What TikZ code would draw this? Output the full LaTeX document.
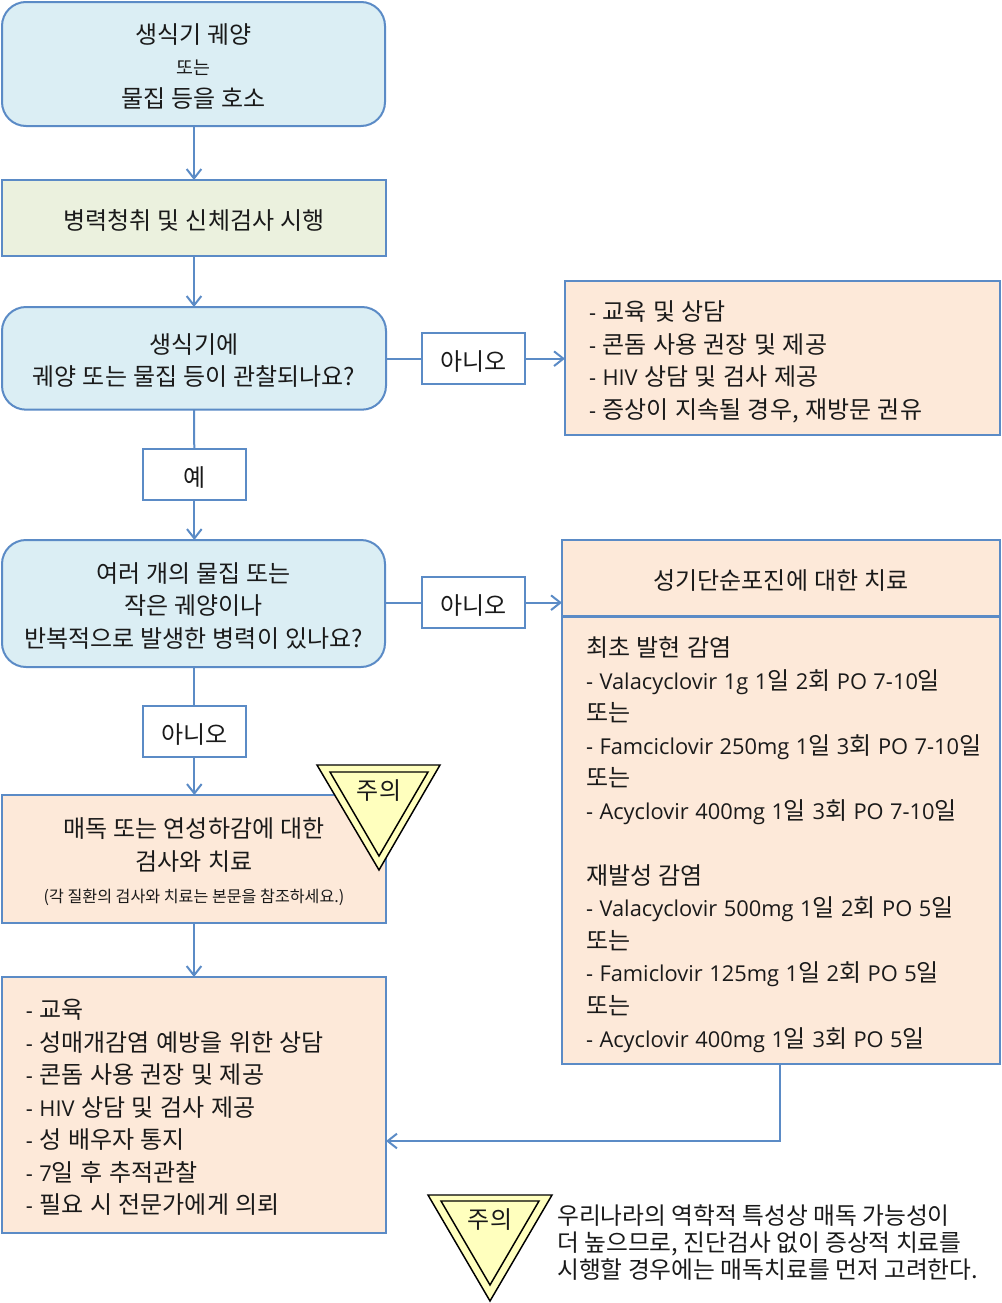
\documentclass[tikz,border=0pt]{standalone}
\usepackage{fontspec}
\setmainfont{Noto Sans CJK KR}
\newfontfamily\latf{Open Sans}[Scale=0.91]
\usetikzlibrary{arrows.meta}
\definecolor{lineblue}{HTML}{5B8BC6}
\definecolor{skyfill}{HTML}{DBEEF4}
\definecolor{greenfill}{HTML}{EBF1DE}
\definecolor{peachfill}{HTML}{FDE9D9}
\definecolor{warnfill}{HTML}{FFFFBE}
\definecolor{txt}{HTML}{1A1A1A}
\newcommand{\bigf}{\fontsize{18pt}{24.4pt}\selectfont\spaceskip=.25em\relax}
\newcommand{\listf}{\fontsize{18pt}{24.4pt}\selectfont\spaceskip=.27em\relax}
\newcommand{\smallf}{\fontsize{13.8pt}{24.4pt}\selectfont}
\newcommand{\tinyf}{\fontsize{12.1pt}{24.4pt}\selectfont\spaceskip=.224em\relax}
\newcommand{\notef}{\fontsize{17.8pt}{20.25pt}\selectfont}
\newcommand{\lat}[1]{{\latf #1}}
\tikzset{
  x=0.75pt,y=-0.75pt,
  box/.style={draw=lineblue,line width=1.5pt,inner sep=0pt,outer sep=0pt,text=txt,font=\bigf,align=flush center,anchor=north west,
    execute at begin node={\rule{0pt}{24pt}},execute at end node={\rule[-7pt]{0pt}{7pt}}},
  sky/.style={box,fill=skyfill,rounded corners=18pt},
  green box/.style={box,fill=greenfill},
  peach/.style={box,fill=peachfill},
  list box/.style={peach,font=\listf,align=flush left},
  label box/.style={box,fill=white,minimum width=77pt,minimum height=38.5pt},
  conn/.style={draw=lineblue,line width=1.5pt},
  arr/.style={conn,-{Straight Barb[length=7pt,width=11pt,line width=1.5pt]}},
  warn/.style={draw=black,line width=1.1pt,fill=warnfill,line join=miter},
  warntext/.style={text=txt,font=\bigf,inner sep=0pt},
}
\begin{document}
\begin{tikzpicture}
\useasboundingbox (0,0) rectangle (1002,1303);
\node[sky,minimum width=287.25pt,minimum height=93pt,text width=280pt] (a) at (2,2) {생식기 궤양\\[-1pt]{\smallf 또는}\\물집 등을 호소};
\node[green box,minimum width=288pt,minimum height=57pt] (b) at (2,180) {병력청취 및 신체검사 시행};
\node[sky,minimum width=288pt,minimum height=77pt,text width=280pt] (c) at (2,307) {생식기에\\궤양 또는 물집 등이 관찰되나요?};
\node[list box,minimum width=326.25pt,minimum height=115.5pt,text width=290.25pt] (d) at (565,281) {\lat{-} 교육 및 상담\\\lat{-} 콘돔 사용 권장 및 제공\\\lat{- HIV} 상담 및 검사 제공\\\lat{-} 증상이 지속될 경우, 재방문 권유};
\node[label box] (no1) at (422,333) {아니오};
\node[label box] (yes) at (143,449) {예};
\node[sky,minimum width=287.25pt,minimum height=95.25pt,text width=280pt] (e) at (2,540) {여러 개의 물집 또는\\작은 궤양이나\\반복적으로 발생한 병력이 있나요?};
\node[label box] (no2) at (422,577) {아니오};
\node[peach,minimum width=328.5pt,minimum height=57pt] (fh) at (562,540) {성기단순포진에 대한 치료};
\node[list box,minimum width=328.5pt,minimum height=335.25pt,text width=292.5pt] (fb) at (562,617) {최초 발현 감염\\\lat{- Valacyclovir 1g 1}일 \lat{2}회 \lat{PO 7-10}일\\또는\\\mbox{\lat{- Famciclovir 250mg 1}일 \lat{3}회 \lat{PO 7-10}일}\\또는\\\lat{- Acyclovir 400mg 1}일 \lat{3}회 \lat{PO 7-10}일\\[24.4pt]재발성 감염\\\lat{- Valacyclovir 500mg 1}일 \lat{2}회 \lat{PO 5}일\\또는\\\lat{- Famiclovir 125mg 1}일 \lat{2}회 \lat{PO 5}일\\또는\\\lat{- Acyclovir 400mg 1}일 \lat{3}회 \lat{PO 5}일};
\node[label box] (no3) at (143,706) {아니오};
\node[peach,minimum width=288pt,minimum height=96pt,text width=280pt] (g) at (2,795) {매독 또는 연성하감에 대한\\검사와 치료\\{\tinyf (각 질환의 검사와 치료는 본문을 참조하세요.)}};
\node[list box,minimum width=288pt,minimum height=192pt,text width=252pt] (h) at (2,977) {\lat{-} 교육\\\lat{-} 성매개감염 예방을 위한 상담\\\lat{-} 콘돔 사용 권장 및 제공\\\lat{- HIV} 상담 및 검사 제공\\\lat{-} 성 배우자 통지\\\lat{- 7}일 후 추적관찰\\\lat{-} 필요 시 전문가에게 의뢰};
\coordinate (hin) at (386,1141);
\draw[arr] (a.south -| b.north) -- (b.north);
\draw[arr] (b) -- (c);
\draw[conn] (c.east |- no1.west) -- (no1.west);
\draw[arr] (no1.east) -- (no1.east -| d.west);
\draw[conn] (c) -- (yes);
\draw[arr] (yes.south) -- (yes.south |- e.north);
\draw[conn] (e.east |- no2.west) -- (no2.west);
\draw[arr] (no2.east) -- (no2.east -| fh.west);
\draw[conn] (no3.north |- e.south) -- (no3.north);
\draw[arr] (no3.south) -- (no3.south |- g.north);
\draw[arr] (g) -- (h);
\draw[arr] ([xshift=-.75pt]fb.south) |- (hin);
\draw[warn] (317,765) -- (440,765) -- (379,870) -- cycle;
\draw[warn] (330,772) -- (428,772) -- (379,856) -- cycle;
\node[warntext] (w1) at (379,791) {주의};
\draw[warn] (428,1195) -- (552,1195) -- (490,1301) -- cycle;
\draw[warn] (441,1201) -- (539,1201) -- (490,1285) -- cycle;
\node[warntext] (w2) at (490,1220) {주의};
\node[text=txt,font=\notef,inner sep=0pt,align=left,anchor=west] (note) at (557,1243) {우리나라의 역학적 특성상 매독 가능성이\\더 높으므로, 진단검사 없이 증상적 치료를\\시행할 경우에는 매독치료를 먼저 고려한다.};
\end{tikzpicture}
\end{document}
